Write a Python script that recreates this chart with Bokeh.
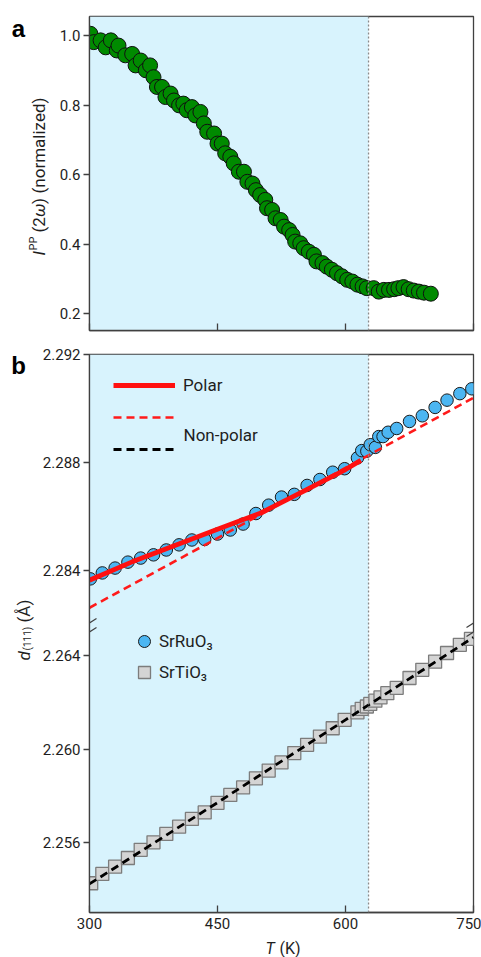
import math
from bokeh.plotting import figure
from bokeh.layouts import column, row
from bokeh.models import (Range1d, FixedTicker, PrintfTickFormatter, BoxAnnotation,
                          Span, Label, Legend, LegendItem, Arrow, Spacer)
from bokeh.embed import file_html
from bokeh.resources import INLINE

FONT = "Roboto"

# ---------------- data ----------------
# panel a: SHG intensity vs temperature
shg_T = [301, 305, 313, 319, 325, 332, 334, 342, 350, 354,
         360, 366, 371, 375, 379, 385, 389, 395, 399, 405,
         410, 414, 420, 424, 430, 434, 438, 446, 450, 455,
         459, 465, 469, 475, 481, 485, 491, 495, 500, 506,
         508, 514, 518, 524, 528, 534, 538, 541, 547, 551,
         557, 563, 566, 573, 578, 584, 590, 596, 602, 608,
         614, 620, 625, 633, 639, 645, 651, 657, 662, 668,
         674, 680, 686, 692, 700]
shg_I = [1.005, 0.981, 0.986, 0.966, 0.986, 0.957, 0.971, 0.943, 0.947, 0.914,
         0.928, 0.900, 0.914, 0.880, 0.852, 0.852, 0.823, 0.833, 0.813, 0.799,
         0.804, 0.785, 0.794, 0.770, 0.780, 0.747, 0.723, 0.718, 0.689, 0.689,
         0.661, 0.651, 0.632, 0.608, 0.608, 0.579, 0.574, 0.555, 0.541, 0.527,
         0.503, 0.498, 0.474, 0.469, 0.450, 0.440, 0.426, 0.407, 0.402, 0.388,
         0.378, 0.369, 0.350, 0.345, 0.335, 0.326, 0.316, 0.307, 0.297, 0.292,
         0.283, 0.278, 0.273, 0.273, 0.263, 0.268, 0.268, 0.270, 0.273, 0.276,
         0.270, 0.266, 0.263, 0.260, 0.257]

# panel b: d(111) of SrRuO3 (upper part) and SrTiO3 (lower part)
sro_T = [301, 315, 330, 345, 360, 375, 390, 405, 420, 435, 450, 465, 480, 495,
         510, 525, 540, 555, 570, 585, 599, 614, 619, 625, 629, 635, 639, 644,
         650, 660, 675, 690, 705, 719, 734, 748]
sro_d = [2.28369, 2.28391, 2.28409, 2.28431, 2.28446, 2.28458, 2.28476, 2.28495,
         2.28513, 2.28515, 2.28535, 2.28550, 2.28572, 2.28611, 2.28642, 2.28672,
         2.28682, 2.28715, 2.28737, 2.28764, 2.28777, 2.28817, 2.28844, 2.28842,
         2.28866, 2.28856, 2.28896, 2.28896, 2.28912, 2.28926, 2.28952, 2.28973,
         2.29004, 2.29031, 2.29055, 2.29073]
sto_T = [302, 315, 330, 345, 360, 375, 390, 405, 420, 435, 450, 465, 480, 495,
         510, 525, 540, 555, 570, 585, 599, 614, 619, 625, 629, 635, 641, 649,
         660, 675, 690, 705, 719, 734, 747]
sto_d = [2.25427, 2.25467, 2.25498, 2.25535, 2.25570, 2.25602, 2.25638, 2.25669,
         2.25702, 2.25730, 2.25771, 2.25805, 2.25837, 2.25876, 2.25909, 2.25944,
         2.25984, 2.26019, 2.26054, 2.26090, 2.26126, 2.26158, 2.26173, 2.26183,
         2.26194, 2.26208, 2.26222, 2.26240, 2.26263, 2.26305, 2.26340, 2.26375,
         2.26412, 2.26447, 2.26472]
polar_T = [300, 350, 400, 450, 500, 550, 600, 618]
polar_d = [2.28364, 2.28432, 2.28493, 2.28553, 2.28612, 2.28692, 2.28774, 2.28808]
nonpolar_sro_T = [300, 450, 600, 750]
nonpolar_sro_d = [2.28262, 2.28520, 2.28780, 2.29040]
nonpolar_sto_T = [300, 450, 600, 750]
nonpolar_sto_d = [2.25424, 2.25772, 2.26126, 2.26479]

T_transition = 627
x_ticks = [300, 450, 600, 750]
a_ticks = [0.2, 0.4, 0.6, 0.8, 1.0]
b_upper_ticks = [2.284, 2.288, 2.292]
b_lower_ticks = [2.256, 2.260, 2.264]
series_labels = ["Polar", "Non-polar", "SrRuO\u2083", "SrTiO\u2083"]

# ---------------- styles ----------------
TOTAL_W = 481
AX = "#404040"
TXT = "#1e1e1e"
SHADE = "#d8f3fd"
FRAME_W = 384
MR = 8
DASH = "8 5"


def base_style(p):
    p.xgrid.visible = False
    p.ygrid.visible = False
    p.outline_line_color = AX
    p.outline_line_width = 1.3
    p.background_fill_color = "white"
    p.border_fill_color = "white"
    for ax in p.axis:
        ax.axis_line_color = AX
        ax.axis_line_width = 1.3
        ax.major_tick_line_color = AX
        ax.major_tick_line_width = 1.3
        ax.minor_tick_line_color = None
        ax.major_label_text_font = FONT
        ax.major_label_text_font_size = "15px"
        ax.major_label_text_color = TXT
    p.xaxis.ticker = FixedTicker(ticks=x_ticks)
    p.xaxis.major_tick_in = 7
    p.xaxis.major_tick_out = 0
    p.yaxis.major_tick_in = 0
    p.yaxis.major_tick_out = 6
    p.yaxis.major_label_standoff = 3
    p.add_layout(BoxAnnotation(left=x_ticks[0], right=T_transition, fill_color=SHADE,
                               fill_alpha=1, line_alpha=0, level="underlay"))
    p.add_layout(Span(location=T_transition, dimension="height", line_color="#8a8a8a",
                      line_dash="2 2", line_width=1.3))


def lab(p, x, y, text, size="15px", style="normal", angle=0.0, align="left",
        baseline="middle", font=FONT, color=TXT):
    p.add_layout(Label(x=x, y=y, x_units="screen", y_units="screen", text=text,
                       text_font=font, text_font_size=size, text_font_style=style,
                       text_color=color, angle=angle, text_align=align,
                       text_baseline=baseline))


def strip(w, h):
    s = figure(width=w, height=h, x_range=Range1d(0, 1), y_range=Range1d(0, 1),
               output_backend="svg", toolbar_location=None, title=None,
               x_axis_location=None, y_axis_location=None, min_border=0)
    s.xgrid.visible = False
    s.ygrid.visible = False
    s.outline_line_color = None
    s.background_fill_color = "white"
    s.border_fill_color = "white"
    return s


up = math.pi / 2

# ---------------- panel a ----------------
HA = 340
SA_W = 54
pa = figure(width=TOTAL_W - SA_W, height=HA, x_range=Range1d(300, 750),
            y_range=Range1d(0.1511, 1.0547),
            output_backend="svg", toolbar_location=None, title=None,
            min_border_left=89 - SA_W, min_border_right=MR, min_border_top=16,
            min_border_bottom=10)
base_style(pa)
pa.yaxis.ticker = FixedTicker(ticks=a_ticks)
pa.yaxis.formatter = PrintfTickFormatter(format="%.1f")
pa.xaxis.major_label_overrides = {t: "" for t in x_ticks}
pa.scatter(shg_T, shg_I, marker="circle", size=15, fill_color="#008a00",
           line_color="#101010", line_width=1)

# label strip for panel a: page y 1..339 (offset so its edges differ from pa's)
SA_H = HA - 2
sa = strip(SA_W, SA_H)
base_a = 339  # page y of the strip's bottom edge
lab(sa, 18, base_a - 28, "a", size="24px", style="bold", align="center",
    baseline="alphabetic", font="Liberation Sans", color="black")
xa = 38
ya = base_a - 255
lab(sa, xa, ya, "I", size="17px", style="italic", angle=up)
lab(sa, xa - 5, ya + 5, "PP", size="11px", angle=up)
lab(sa, xa, ya + 23, "(2", size="17px", angle=up)
lab(sa, xa, ya + 38.5, "\u03c9", size="17px", style="italic", angle=up)
lab(sa, xa, ya + 51.5, ")", size="17px", angle=up)
lab(sa, xa, ya + 62, "(normalized)", size="17px", angle=up)

# ---------------- panel b ----------------
HB = 599
SB_W = 36
yu = Range1d(2.271333, 2.292)
yl = Range1d(2.253018, 2.27689)
pb = figure(width=TOTAL_W - SB_W, height=HB, x_range=Range1d(300, 750), y_range=yu,
            output_backend="svg", toolbar_location=None, title=None,
            min_border_left=89 - SB_W, min_border_right=MR, min_border_top=14,
            min_border_bottom=27)
pb.extra_y_ranges = {"lower": yl}
base_style(pb)
pb.xaxis.major_label_standoff = 5


def lower_to_upper(v):
    return yu.start + (v - yl.start) * (yu.end - yu.start) / (yl.end - yl.start)


tick_pos = list(b_upper_ticks) + [lower_to_upper(v) for v in b_lower_ticks]
tick_txt = ["%.3f" % v for v in b_upper_ticks] + ["%.3f" % v for v in b_lower_ticks]
pb.yaxis.ticker = FixedTicker(ticks=tick_pos)
pb.yaxis.major_label_overrides = dict(zip(tick_pos, tick_txt))

r_sro = pb.scatter(sro_T, sro_d, marker="circle", size=12.5, fill_color="#4cb6f2",
                   line_color="#1a1a1a", line_width=1)
r_sto = pb.scatter(sto_T, sto_d, marker="square", size=13, fill_color="#d4d4d4",
                   line_color="#7c7c7c", line_width=1.3, y_range_name="lower")
r_np_sro = pb.line(nonpolar_sro_T, nonpolar_sro_d, line_color="#ff1a1a", line_width=2.6,
                   line_dash=DASH)
r_polar = pb.line(polar_T, polar_d, line_color="#ff1010", line_width=4.8)
r_np_sto = pb.line(nonpolar_sto_T, nonpolar_sto_d, line_color="black", line_width=2.8,
                   line_dash=DASH, y_range_name="lower")


def legend_style(lg, size):
    lg.background_fill_alpha = 0
    lg.border_line_alpha = 0
    lg.padding = 0
    lg.margin = 0
    lg.label_text_font = FONT
    lg.label_text_font_size = size
    lg.label_text_color = TXT


leg1 = Legend(items=[LegendItem(label=series_labels[0], renderers=[r_polar]),
                     LegendItem(label=" ", renderers=[r_np_sro]),
                     LegendItem(label=" ", renderers=[r_np_sto])],
              location=(24, 453), glyph_width=62, glyph_height=20, label_height=20,
              spacing=12, label_standoff=8)
legend_style(leg1, "17px")
pb.add_layout(leg1, "center")
lab(pb, 94, 478, series_labels[1], size="17px")

leg2 = Legend(items=[LegendItem(label=series_labels[2], renderers=[r_sro]),
                     LegendItem(label=series_labels[3], renderers=[r_sto])],
              location=(40, 225), glyph_width=30, glyph_height=30, label_height=30,
              spacing=1, label_standoff=0)
legend_style(leg2, "17px")
pb.add_layout(leg2, "center")

# axis break marks (on the spines)
for (x0, x1) in [(-7, 7), (FRAME_W - 7, FRAME_W + 7)]:
    for dy in (0, -9):
        pb.add_layout(Arrow(end=None, x_start=x0, y_start=285 + dy, x_end=x1,
                            y_end=294 + dy, start_units="screen", end_units="screen",
                            line_color=AX, line_width=1.2))

# label strip for panel b: page y 341..938
SB_H = HB - 2
sb = strip(SB_W, SB_H)
base_b = 938
lab(sb, 18, base_b - 365, "b", size="24px", style="bold", align="center",
    baseline="alphabetic", font="Liberation Sans", color="black")
xb = 23
yb = base_b - 660
lab(sb, xb, yb, "d", size="17px", style="italic", angle=up)
lab(sb, xb + 4, yb + 10, "(111)", size="10px", angle=up)
lab(sb, xb, yb + 38, "(\u00c5)", size="17px", angle=up)

# ---------------- x title strip ----------------
HX = 957 - HA - HB
sx = strip(TOTAL_W - 1, HX)
lab(sx, 265, HX - 9, "T", size="16px", style="italic")
lab(sx, 279, HX - 9, "(K)", size="16px")

row_a = row(column(Spacer(width=SA_W, height=1), sa), pa)
row_b = row(column(Spacer(width=SB_W, height=1), sb), pb)
layout = column(row_a, row_b, sx)
open("out.html", "w").write(file_html(layout, INLINE))
